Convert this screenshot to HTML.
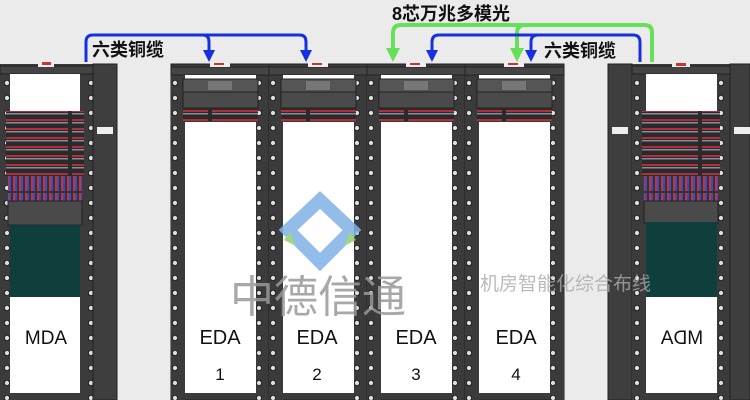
<!DOCTYPE html>
<html><head><meta charset="utf-8"><style>
html,body{margin:0;padding:0;background:#ebebeb;}
svg{display:block;}
text{font-family:"Liberation Sans","Noto Sans CJK SC",sans-serif;}
</style></head><body>
<svg width="750" height="400" viewBox="0 0 750 400" xmlns="http://www.w3.org/2000/svg">
<defs>
<pattern id="holes" x="0" y="0" width="14" height="15" patternUnits="userSpaceOnUse">
<rect width="14" height="15" fill="#3b3b3b"/>
<circle cx="7" cy="8" r="2.6" fill="#ddd" stroke="#111" stroke-width="0.8"/>
</pattern>
<pattern id="panel" x="0" y="0" width="70" height="9" patternUnits="userSpaceOnUse">
<rect width="70" height="9" fill="#2a2a2a"/>
<rect x="2" y="2" width="66" height="2" fill="#b0303a"/>
<rect x="2" y="5" width="66" height="1.5" fill="#8a8aa0"/>
</pattern>
<pattern id="ports" x="0" y="0" width="6" height="24" patternUnits="userSpaceOnUse">
<rect width="6" height="24" fill="#333"/>
<rect x="1" y="1" width="2" height="22" fill="#d03030"/>
<rect x="3" y="1" width="2" height="22" fill="#3050d0"/>
</pattern>
</defs>
<rect width="750" height="400" fill="#ebebeb"/>

<!-- MDA rack -->
<rect x="0" y="64" width="93" height="336" fill="#3b3b3b"/>
<rect x="0" y="74" width="10" height="326" fill="url(#holes)"/>
<rect x="80" y="74" width="13" height="326" fill="url(#holes)"/>
<rect x="0" y="66" width="93" height="8" fill="#444" stroke="#222"/>
<rect x="38" y="62" width="16" height="5" fill="#eee"/><rect x="42" y="62" width="9" height="3" fill="#c33"/>
<rect x="10" y="74" width="70" height="37" fill="#fff"/>
<rect x="6" y="111" width="78" height="65" fill="url(#panel)"/>
<rect x="8" y="176" width="74" height="25" fill="url(#ports)"/>
<rect x="8" y="201" width="74" height="24" fill="#4a4a4a" stroke="#222"/>
<rect x="10" y="225" width="70" height="72" fill="#0f3f3d"/>
<rect x="10" y="297" width="70" height="96" fill="#fff"/>
<text x="46" y="344" font-size="19" text-anchor="middle" fill="#111">MDA</text>
<rect x="93" y="64" width="24" height="336" fill="#3e3e3e" stroke="#222"/>
<rect x="97" y="127" width="16" height="7" fill="#eee"/>

<!-- EDA racks -->
<g id="r1">
<rect x="171" y="64" width="99" height="336" fill="#3b3b3b" stroke="#222"/>
<rect x="171" y="75" width="14" height="325" fill="url(#holes)"/>
<rect x="256" y="75" width="14" height="325" fill="url(#holes)"/>
<rect x="171" y="67" width="99" height="8" fill="#454545" stroke="#222"/>
<rect x="185" y="75" width="71" height="4" fill="#fff"/>
<rect x="183" y="79" width="75" height="13" fill="#555" stroke="#222"/>
<rect x="208" y="81" width="24" height="9" fill="#777"/>
<rect x="183" y="92" width="75" height="16" fill="#4a4a4a" stroke="#222"/>
<rect x="183" y="108" width="75" height="13" fill="url(#panel)"/>
<rect x="185" y="122" width="71" height="271" fill="#fff"/>
<rect x="210" y="62" width="20" height="5" fill="#eee"/><rect x="214" y="63" width="10" height="2" fill="#c33"/>
</g>
<use href="#r1" x="98"/>
<use href="#r1" x="196"/>
<use href="#r1" x="294"/>
<text x="220" y="344" font-size="20" text-anchor="middle" fill="#111">EDA</text>
<text x="220" y="380" font-size="17" text-anchor="middle" fill="#111">1</text>
<text x="317" y="344" font-size="20" text-anchor="middle" fill="#111">EDA</text>
<text x="317" y="380" font-size="17" text-anchor="middle" fill="#111">2</text>
<text x="416" y="344" font-size="20" text-anchor="middle" fill="#111">EDA</text>
<text x="416" y="380" font-size="17" text-anchor="middle" fill="#111">3</text>
<text x="516" y="344" font-size="20" text-anchor="middle" fill="#111">EDA</text>
<text x="516" y="380" font-size="17" text-anchor="middle" fill="#111">4</text>

<!-- ADM rack -->
<rect x="608" y="64" width="24" height="336" fill="#3e3e3e" stroke="#222"/>
<rect x="612" y="127" width="16" height="7" fill="#eee"/>
<rect x="632" y="64" width="98" height="336" fill="#3b3b3b"/>
<rect x="632" y="74" width="14" height="326" fill="url(#holes)"/>
<rect x="716" y="74" width="14" height="326" fill="url(#holes)"/>
<rect x="632" y="66" width="98" height="8" fill="#444" stroke="#222"/>
<rect x="672" y="62" width="18" height="5" fill="#eee"/><rect x="676" y="63" width="10" height="3" fill="#c33"/>
<rect x="646" y="74" width="71" height="37" fill="#fff"/>
<rect x="642" y="111" width="78" height="65" fill="url(#panel)"/>
<rect x="644" y="176" width="74" height="25" fill="url(#ports)"/>
<rect x="644" y="201" width="74" height="22" fill="#4a4a4a" stroke="#222"/>
<rect x="646" y="222" width="71" height="75" fill="#0f3f3d"/>
<rect x="646" y="297" width="71" height="96" fill="#fff"/>
<text x="-682" y="344" font-size="19" text-anchor="middle" fill="#111" transform="scale(-1,1)">MDA</text>
<rect x="730" y="64" width="20" height="336" fill="#3e3e3e" stroke="#222"/>
<rect x="734" y="127" width="16" height="7" fill="#eee"/>

<!-- watermark -->
<g opacity="0.85">
<polygon points="320,200 352,230 320,262 288,230" fill="none" stroke="#7fb2e6" stroke-width="13"/>
<polygon points="290,232 284,240 296,246" fill="#8fd06a"/>
<polygon points="350,232 356,240 344,246" fill="#8fd06a"/>
</g>
<text x="318" y="312" font-size="44" text-anchor="middle" fill="#9a9a9a" opacity="0.85">中德信通</text>
<text x="480" y="290" font-size="19" fill="#aaa" opacity="0.8">机房智能化综合布线</text>

<!-- blue left -->
<g fill="none" stroke="#1530e0" stroke-width="3" stroke-linejoin="round">
<path d="M86 62 V42 Q86 35 93 35 H300 Q306 35 306 42 V52"/>
<path d="M203 35 Q209 35 209 42 V52"/>
</g>
<polygon points="203,50 215,50 209,62" fill="#1530e0"/>
<polygon points="300,50 312,50 306,62" fill="#1530e0"/>
<text x="92" y="56" font-size="18" font-weight="bold" fill="#111">六类铜缆</text>

<!-- green -->
<g fill="none" stroke="#66e05a" stroke-width="4" stroke-linejoin="round">
<path d="M652 62 V32 Q652 25 644 25 H401 Q393 25 393 33 V50"/>
<path d="M525 25 Q517 25 517 33 V50"/>
</g>
<polygon points="386,48 400,48 393,62" fill="#66e05a"/>
<polygon points="510,48 524,48 517,62" fill="#66e05a"/>
<text x="392" y="20" font-size="18" font-weight="bold" fill="#111">8芯万兆多模光</text>

<!-- blue right -->
<g fill="none" stroke="#1530e0" stroke-width="3" stroke-linejoin="round">
<path d="M640 62 V42 Q640 35 633 35 H439 Q432 35 432 42 V52"/>
<path d="M538 35 Q531 35 531 42 V52"/>
</g>
<polygon points="426,50 438,50 432,62" fill="#1530e0"/>
<polygon points="525,50 537,50 531,62" fill="#1530e0"/>
<text x="544" y="57" font-size="18" font-weight="bold" fill="#111">六类铜缆</text>
</svg>
</body></html>
